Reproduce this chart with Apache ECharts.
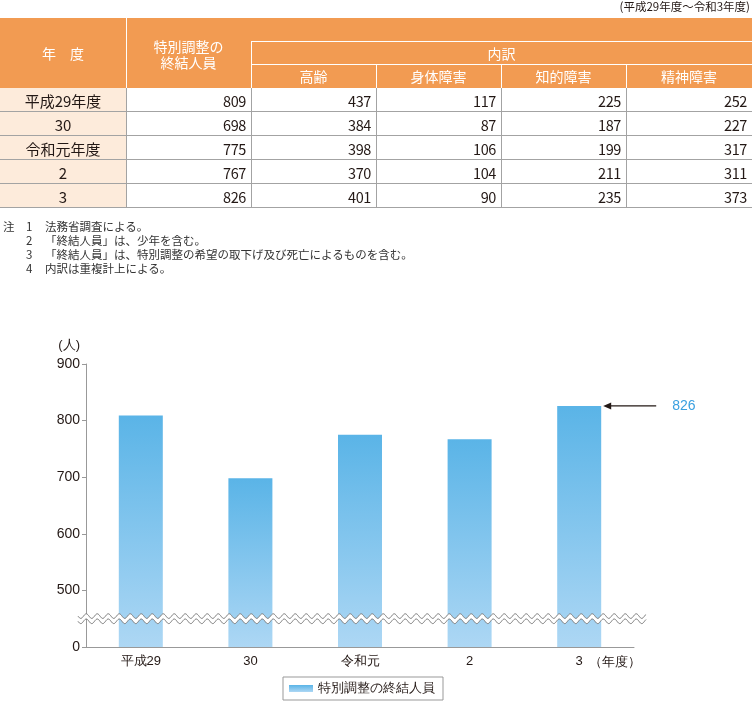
<!DOCTYPE html>
<html><head><meta charset="utf-8">
<script src="https://cdn.jsdelivr.net/npm/echarts@6/dist/echarts.min.js"></script>
<style>
body{margin:0;background:#fff;font-family:"Noto Sans CJK JP","Noto Sans",sans-serif;color:#231815}
#wrap{position:relative;width:752px;height:706px;overflow:hidden}
#chart{position:absolute;left:0;top:0;width:752px;height:706px;z-index:0}
#overlay{position:absolute;left:0;top:0;width:752px;height:300px;z-index:1}
.abs{position:absolute;box-sizing:border-box;white-space:nowrap}
.c{display:flex;align-items:center;justify-content:center;text-align:center}
.r{display:flex;align-items:center;justify-content:flex-end;padding-right:5px}
</style></head>
<body><div id="wrap"><div id="chart"></div><div id="overlay"></div></div>
<script>
// ---- data ----
const periodNote = '(平成29年度～令和3年度)';
const tableYears = ['平成29年度', '30', '令和元年度', '2', '3'];
const chartCategories = ['平成29', '30', '令和元', '2', '3'];
const totalPersons = [809, 698, 775, 767, 826];
const elderly = [437, 384, 398, 370, 401];
const physical = [117, 87, 106, 104, 90];
const intellectual = [225, 187, 199, 211, 235];
const mental = [252, 227, 317, 311, 373];
const breakdownHeaders = ['高齢', '身体障害', '知的障害', '精神障害'];
const yTickLabels = ['0', '500', '600', '700', '800', '900'];
const notes = [
  ['注', '1', '法務省調査による。'],
  ['', '2', '「終結人員」は、少年を含む。'],
  ['', '3', '「終結人員」は、特別調整の希望の取下げ及び死亡によるものを含む。'],
  ['', '4', '内訳は重複計上による。']
];
const seriesName = '特別調整の終結人員';
const axisShift = 400; // broken axis: 0 sits one tick below 500

(function () {
// ---- table ----
const ov = document.getElementById('overlay');
function box(x, y, w, h, cls, style, html) {
  const d = document.createElement('div');
  d.className = 'abs ' + (cls || '');
  Object.assign(d.style, {left: x + 'px', top: y + 'px', width: w + 'px', height: h + 'px'}, style || {});
  if (html != null) d.innerHTML = html;
  ov.appendChild(d);
  return d;
}
const colX = [0, 126, 251, 376, 501, 626, 752];
const headTop = 18, subTop = 41, itemTop = 64, bodyTop = 88, rowH = 24;
const ORANGE = '#F29B52', PEACH = '#FDEBDB', GRIDC = '#A3A3A3';
box(550, 0, 200, 14, '', {fontSize: '11.5px', textAlign: 'right', lineHeight: '13px', color: '#231815'}, periodNote);
box(0, headTop, 752, bodyTop - headTop, '', {background: ORANGE});
const hs = {color: '#fff', fontSize: '14px'};
box(0, headTop, 126, bodyTop - headTop, 'c', hs, '年　度');
box(126, headTop, 125, bodyTop - headTop, 'c', Object.assign({lineHeight: '16px', paddingTop: '2px'}, hs), '特別調整の<br>終結人員');
box(251, subTop, 501, itemTop - subTop, 'c', hs, '内訳');
breakdownHeaders.forEach((t, i) => box(colX[i + 2], itemTop, colX[i + 3] - colX[i + 2], bodyTop - itemTop, 'c', hs, t));
box(126, headTop, 1, bodyTop - headTop, '', {background: '#fff'});
box(251, subTop, 1, bodyTop - subTop, '', {background: '#fff'});
box(251, subTop, 501, 1, '', {background: '#fff'});
box(251, itemTop, 501, 1, '', {background: '#fff'});
[376, 501, 626].forEach(x => box(x, itemTop, 1, bodyTop - itemTop, '', {background: '#fff'}));
const cols = [totalPersons, elderly, physical, intellectual, mental];
tableYears.forEach((yname, i) => {
  const y = bodyTop + i * rowH;
  box(0, y, 126, rowH, 'c', {background: PEACH, fontSize: '15px'}, yname);
  cols.forEach((arr, j) => box(colX[j + 1], y, colX[j + 2] - colX[j + 1], rowH, 'r', {fontSize: '14.5px', letterSpacing: '-0.4px'}, String(arr[i])));
  box(0, y + rowH - 1, 752, 1, '', {background: GRIDC});
});
[126, 251, 376, 501, 626].forEach(x => box(x, bodyTop, 1, rowH * tableYears.length, '', {background: GRIDC}));
notes.forEach((n, i) => {
  const y = 219 + i * 14;
  const st = {fontSize: '11.5px', lineHeight: '14px', color: '#333'};
  if (n[0]) box(3, y, 14, 14, '', st, n[0]);
  box(26, y, 10, 14, '', st, n[1]);
  box(45, y, 420, 14, '', st, n[2]);
});

// ---- chart ----
const chart = echarts.init(document.getElementById('chart'), null, {renderer: 'canvas'});
const TXT = '#231815';
chart.setOption({
  animation: false,
  backgroundColor: '#fff',
  grid: {left: 86, right: 118, top: 364, bottom: 59},
  xAxis: {
    type: 'category', data: chartCategories,
    axisLine: {lineStyle: {color: '#999'}}, axisTick: {show: false},
    axisLabel: {color: TXT, fontSize: 13, margin: 8}
  },
  yAxis: {
    type: 'value', min: 0, max: 500, interval: 100,
    name: '(人)', nameLocation: 'end', nameGap: 12,
    nameTextStyle: {align: 'right', fontSize: 13, color: TXT, padding: [0, 6, 0, 0]},
    axisLine: {show: true, lineStyle: {color: '#999'}},
    axisTick: {show: true, length: 4, lineStyle: {color: '#999'}},
    splitLine: {show: false},
    axisLabel: {fontSize: 14, color: TXT, margin: 6, formatter: v => yTickLabels[Math.round(v / 100)]}
  },
  legend: {
    left: 283, top: 677, padding: [5, 8, 5, 6], borderColor: '#999', borderWidth: 1,
    itemWidth: 24, itemHeight: 7, icon: 'rect',
    textStyle: {fontSize: 13, color: TXT}, data: [seriesName]
  },
  series: [{
    type: 'bar', name: seriesName, barWidth: 44,
    data: totalPersons.map(v => v - axisShift),
    itemStyle: {color: new echarts.graphic.LinearGradient(0, 0, 0, 1, [
      {offset: 0, color: '#5AB4E7'}, {offset: 1, color: '#ADD7F4'}])}
  }]
});

// decorations: axis break wave, annotation, x-axis unit
const yBreak = chart.convertToPixel({yAxisIndex: 0}, 50);
const x0 = 78, x1 = 646, period = 11, amp = 2.3, half = 2.6;
const waveTop = [], waveBot = [];
for (let x = x0; x <= x1; x += 0.5) {
  const s = amp * Math.sin((x - x0) / period * 2 * Math.PI);
  waveTop.push([x, yBreak - half + s]);
  waveBot.push([x, yBreak + half + s]);
}
const last = totalPersons.length - 1;
const pt = chart.convertToPixel({seriesIndex: 0}, [last, totalPersons[last] - axisShift]);
const ax = pt[0] + 24, ay = pt[1];
chart.setOption({
  graphic: [
    {type: 'polygon', shape: {points: waveTop.concat(waveBot.slice().reverse())}, style: {fill: '#fff'}, z: 100},
    {type: 'polyline', shape: {points: waveTop}, style: {stroke: '#777', lineWidth: 1, fill: null}, z: 101},
    {type: 'polyline', shape: {points: waveBot}, style: {stroke: '#777', lineWidth: 1, fill: null}, z: 101},
    {type: 'line', shape: {x1: ax + 6, y1: ay, x2: ax + 53, y2: ay}, style: {stroke: '#231815', lineWidth: 1.2}, z: 101},
    {type: 'polygon', shape: {points: [[ax, ay], [ax + 8, ay - 3.5], [ax + 8, ay + 3.5]]}, style: {fill: '#231815'}, z: 101},
    {type: 'text', x: ax + 69, y: ay, style: {text: String(totalPersons[last]), fill: '#3AA0E0', fontSize: 14, verticalAlign: 'middle', align: 'left'}, z: 101},
    {type: 'text', x: 641, y: 662, style: {text: '（年度）', fill: TXT, fontSize: 13, verticalAlign: 'middle', align: 'right'}, z: 101}
  ]
});
})();
</script>
</body></html>
